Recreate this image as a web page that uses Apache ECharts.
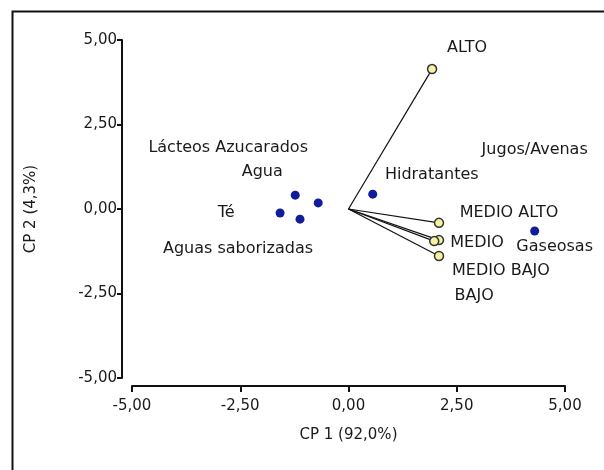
<!DOCTYPE html>
<html>
<head>
<meta charset="utf-8">
<script src="https://cdn.jsdelivr.net/npm/echarts@6/dist/echarts.min.js"></script>
<style>html,body{margin:0;padding:0;background:#fff}#c{width:604px;height:470px}</style>
</head>
<body>
<div id="c"></div>
<script>
// ---- data ----
const productNames = ['Lácteos Azucarados', 'Agua', 'Té', 'Aguas saborizadas', 'Hidratantes', 'Gaseosas'];
const productX = [-0.70, -1.23, -1.58, -1.12, 0.56, 4.30];
const productY = [0.18, 0.41, -0.12, -0.30, 0.44, -0.65];
const extraLabel = 'Jugos/Avenas';        // label printed above Gaseosas
const vectorNames = ['ALTO', 'MEDIO ALTO', 'MEDIO', 'MEDIO BAJO', 'BAJO'];
const vectorX = [1.93, 2.09, 2.09, 2.09, 1.98];
const vectorY = [4.14, -0.41, -0.92, -1.39, -0.95];
const xTicks = [-5, -2.5, 0, 2.5, 5];
const yTicks = [-5, -2.5, 0, 2.5, 5];
const xTitle = 'CP 1 (92,0%)';
const yTitle = 'CP 2 (4,3%)';

// ---- style (label offsets in pixels) ----
const productOffsets = [[-90, -55], [-33, -23], [-54, 0], [-62, 30], [59, -19], [20, 16]];
const extraOffset = [0, -81];
const vectorOffsets = [[35, -21], [70, -10], [38, 3], [62, 15], [40, 55]];

const FONT = 'DejaVu Sans';
const TXT = '#1a1a1a';
const fmt = v => v.toFixed(2).replace('.', ',');
const labelStyle = { show: true, position: 'inside', color: TXT, opacity: 1, textBorderWidth: 0,
  fontFamily: FONT, fontSize: 16, formatter: '{b}' };

const chart = echarts.init(document.getElementById('c'));

const labelData = productNames.map((n, i) => ({
  name: n, value: [productX[i], productY[i]],
  label: Object.assign({}, labelStyle, { offset: productOffsets[i] })
}));
const gi = productNames.indexOf('Gaseosas');
labelData.push({ name: extraLabel, value: [productX[gi], productY[gi]],
  label: Object.assign({}, labelStyle, { offset: extraOffset }) });
vectorNames.forEach((n, i) => labelData.push({
  name: n, value: [vectorX[i], vectorY[i]],
  label: Object.assign({}, labelStyle, { offset: vectorOffsets[i] })
}));

chart.setOption({
  animation: false,
  backgroundColor: '#fff',
  grid: { left: 132, right: 39, top: 40, bottom: 92 },
  xAxis: {
    type: 'value', min: -5, max: 5, interval: 2.5, offset: 8,
    name: xTitle, nameLocation: 'middle', nameGap: 42,
    nameTextStyle: { fontFamily: FONT, fontSize: 15, color: TXT },
    axisLine: { show: true, onZero: false, lineStyle: { color: '#111', width: 2 } },
    axisTick: { show: true, inside: false, length: 6, lineStyle: { color: '#111', width: 2 } },
    axisLabel: { fontFamily: FONT, fontSize: 15, color: TXT, margin: 13,
      formatter: v => xTicks.includes(v) ? fmt(v) : '' },
    splitLine: { show: false }
  },
  yAxis: {
    type: 'value', min: -5, max: 5, interval: 2.5, offset: 10,
    name: yTitle, nameLocation: 'middle', nameGap: 83, nameRotate: 90,
    nameTextStyle: { fontFamily: FONT, fontSize: 15, color: TXT },
    axisLine: { show: true, onZero: false, lineStyle: { color: '#111', width: 2 } },
    axisTick: { show: true, inside: false, length: 5, lineStyle: { color: '#111', width: 2 } },
    axisLabel: { fontFamily: FONT, fontSize: 15, color: TXT, margin: 5,
      formatter: v => yTicks.includes(v) ? fmt(v) : '' },
    splitLine: { show: false }
  },
  graphic: [{
    type: 'rect', left: 10, top: 9, z: -1, silent: true,
    shape: { width: 600, height: 470 },
    style: { fill: 'none', stroke: '#111', lineWidth: 2 }
  }],
  series: [
    {
      type: 'lines', coordinateSystem: 'cartesian2d', z: 2, silent: true,
      lineStyle: { color: '#111', width: 1.2, opacity: 1 },
      data: vectorNames.map((n, i) => ({ coords: [[0, 0], [vectorX[i], vectorY[i]]] }))
    },
    {
      type: 'scatter', z: 3, symbolSize: 9,
      itemStyle: { color: '#f5f2a6', borderColor: '#333', borderWidth: 1.5, opacity: 1 },
      data: vectorNames.map((n, i) => ({ name: n, value: [vectorX[i], vectorY[i]] }))
    },
    {
      type: 'scatter', z: 3, symbolSize: 9,
      itemStyle: { color: '#101c9c', opacity: 1 },
      data: productNames.map((n, i) => ({ name: n, value: [productX[i], productY[i]] }))
    },
    {
      type: 'scatter', z: 4, symbolSize: 1, silent: true,
      itemStyle: { color: 'rgba(255,255,255,0)' },
      data: labelData
    }
  ]
});
</script>
</body>
</html>
